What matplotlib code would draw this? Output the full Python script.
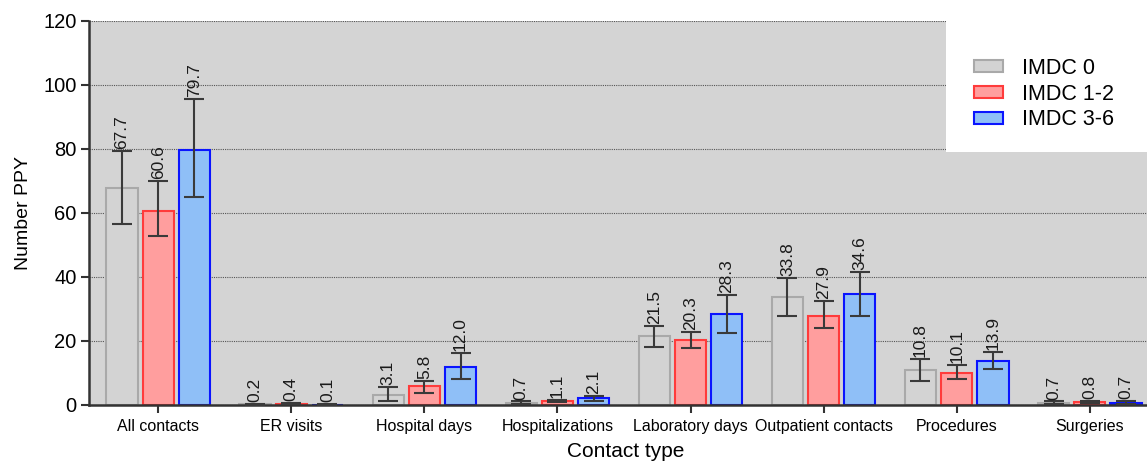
import matplotlib
matplotlib.use("Agg")
import matplotlib.pyplot as plt
import numpy as np
from matplotlib.patches import Rectangle
from matplotlib import font_manager

plt.rcParams['font.family'] = ['Liberation Sans', 'DejaVu Sans']
names = {f.name for f in font_manager.fontManager.ttflist}
label_family = ['Liberation Sans Narrow', 'Liberation Sans'] if 'Liberation Sans Narrow' in names else ['Liberation Sans']

categories = ["All contacts", "ER visits", "Hospital days", "Hospitalizations",
              "Laboratory days", "Outpatient contacts", "Procedures", "Surgeries"]
series_names = ["IMDC 0", "IMDC 1-2", "IMDC 3-6"]

imdc0 = [67.7, 0.2, 3.1, 0.7, 21.5, 33.8, 10.8, 0.7]
imdc0_lo = [56.5, 0.1, 1.4, 0.3, 18.1, 27.7, 7.4, 0.4]
imdc0_hi = [79.4, 0.3, 5.5, 1.1, 24.8, 39.8, 14.3, 1.1]

imdc12 = [60.6, 0.4, 5.8, 1.1, 20.3, 27.9, 10.1, 0.8]
imdc12_lo = [52.8, 0.2, 3.8, 0.8, 17.8, 24.0, 8.0, 0.5]
imdc12_hi = [70.0, 0.6, 7.6, 1.5, 22.9, 32.6, 12.5, 1.2]

imdc36 = [79.7, 0.1, 12.0, 2.1, 28.3, 34.6, 13.9, 0.7]
imdc36_lo = [65.0, 0.0, 8.1, 1.4, 22.6, 27.7, 11.2, 0.3]
imdc36_hi = [95.6, 0.2, 16.3, 2.8, 34.4, 41.7, 16.6, 1.3]

yticks = [0, 20, 40, 60, 80, 100, 120]

faces = ["#d3d3d3", "#ff9e9e", "#8fbff7"]
edges = ["#a9a9a9", "#ff3b3b", "#0a14ff"]

W, H = 1147, 466
fig = plt.figure(figsize=(W / 100, H / 100), dpi=100)
ax = fig.add_axes([89 / W, 1 - 405 / H, 1 - 89 / W, (405 - 21) / H])
ax.set_facecolor("#d4d4d4")

x = np.arange(len(categories))
pitch = 0.272
bw = 0.235
data = [(imdc0, imdc0_lo, imdc0_hi), (imdc12, imdc12_lo, imdc12_hi), (imdc36, imdc36_lo, imdc36_hi)]
for i, (vals, lo, hi) in enumerate(data):
    pos = x + (i - 1) * pitch
    vals = np.array(vals); lo = np.array(lo); hi = np.array(hi)
    ax.bar(pos, vals, width=bw, color=faces[i], edgecolor=edges[i], linewidth=1.5,
           label=series_names[i], zorder=2)
    ax.errorbar(pos, vals, yerr=[vals - lo, hi - vals], fmt='none', ecolor="#3a3a3a",
                elinewidth=1.5, capsize=7, capthick=1.5, zorder=3)
    for p, v, h in zip(pos, vals, hi):
        ax.text(p, h + 0.6, f"{v:.1f}", rotation=90, ha='center', va='bottom',
                fontsize=12.5, family=label_family, color="#1a1a1a", zorder=4)

ax.set_xlim(-0.52, 7.43)
ax.set_ylim(0, 120)
ax.set_yticks(yticks)
ax.set_xticks(x)
ax.set_xticklabels(categories, fontsize=11.5)
ax.tick_params(axis='y', labelsize=14.5, length=6, width=1.5, color="#333333", pad=3)
ax.tick_params(axis='x', length=6, width=1.5, color="#333333", pad=4)
ax.yaxis.grid(True, linestyle=(0, (1, 1)), color="#555555", linewidth=0.8, zorder=0)
ax.set_axisbelow(True)
for s in ["top", "right"]:
    ax.spines[s].set_visible(False)
for s in ["left", "bottom"]:
    ax.spines[s].set_color("#333333")
    ax.spines[s].set_linewidth(1.8)

ax.set_ylabel("Number PPY", fontsize=14, labelpad=8)
ax.set_xlabel("Contact type", fontsize=15, labelpad=6)
ax.xaxis.label.set_x(0.5 + 8 / 1058)

# white legend panel
x0 = (946 - 89) / (W - 89)
y0 = (405 - 152) / (405 - 21)
ax.add_patch(Rectangle((x0, y0), 1 - x0, 1.01 - y0, transform=ax.transAxes,
                       facecolor="white", edgecolor="none", zorder=5, clip_on=False))
leg = ax.legend(loc='upper left', bbox_to_anchor=((963 - 89) / (W - 89), (405 - 47) / 384),
                frameon=False, fontsize=15.5, borderpad=0, handlelength=1.35,
                handleheight=0.47, handletextpad=0.88, labelspacing=0.22)
leg.set_zorder(6)

fig.savefig("out.png", dpi=100)
